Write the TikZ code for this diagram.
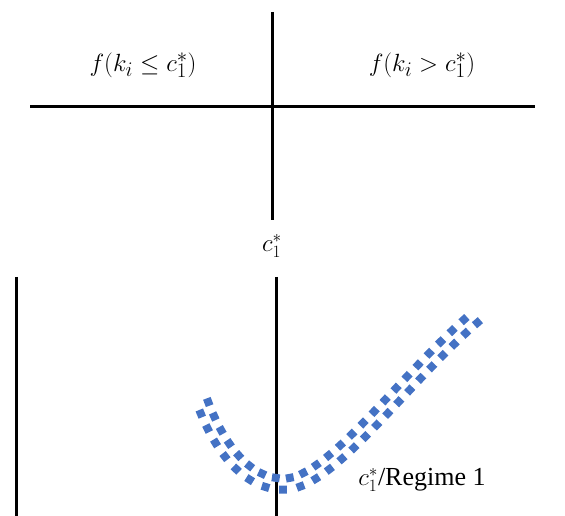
\documentclass[tikz,border=0pt]{standalone}
\usepackage{fontspec}
\newfontfamily\tnr{Liberation Serif}
\usetikzlibrary{decorations.markings}
\definecolor{chk}{RGB}{68,114,196}
\tikzset{
  axis/.style={line width=3pt},
  lbl/.style={font=\fontsize{28}{32}\selectfont, inner sep=0pt},
  sq/.style={fill=chk},
  checker/.style={decoration={markings,
     mark=between positions 0 and 1 step 8pt with {%
       \ifodd\pgfkeysvalueof{/pgf/decoration/mark info/sequence number}\relax
         \fill[sq] (-3.9pt,1.6pt) rectangle (3.9pt,9.6pt);%
       \else
         \fill[sq] (-3.9pt,-1.6pt) rectangle (3.9pt,-9.6pt);%
       \fi}},
     decorate}
}
\begin{document}
\begin{tikzpicture}[x=1pt,y=1pt]
\useasboundingbox (0,0) rectangle (565,516);
% top cross
\coordinate (hl) at (30,409);
\coordinate (hr) at (535,409);
\coordinate (vt) at (272,504);
\coordinate (vb) at (272,296);
\draw[axis] (hl) -- (hr);
\draw[axis] (vt) -- (vb);
\node[lbl] (fl) at (143,451) {$f(k_i \le c_1^*)$};
\node[lbl] (fr) at (422,451) {$f(k_i > c_1^*)$};
\node[lbl, font=\fontsize{26}{30}\selectfont] (c1) at (272,270) {$c_1^*$};
% bottom axes
\coordinate (l1t) at (16,239);
\coordinate (l1b) at (16,0);
\coordinate (l2t) at (276,239);
\coordinate (l2b) at (276,0);
\draw[axis] (l1t) -- (l1b);
\draw[axis] (l2t) -- (l2b);
% checkered curve
\coordinate (cs) at (203,112);
\coordinate (cm) at (283,32);
\coordinate (ce) at (479,202);
\path[checker] (cs) .. controls (222,62) and (250,32) .. (cm) .. controls (330,30) and (405,140) .. (ce);
\node[font=\fontsize{26}{30}\selectfont, inner sep=0pt] (reg) at (422,36) {$c_1^*$\tnr/Regime 1};
\end{tikzpicture}
\end{document}
